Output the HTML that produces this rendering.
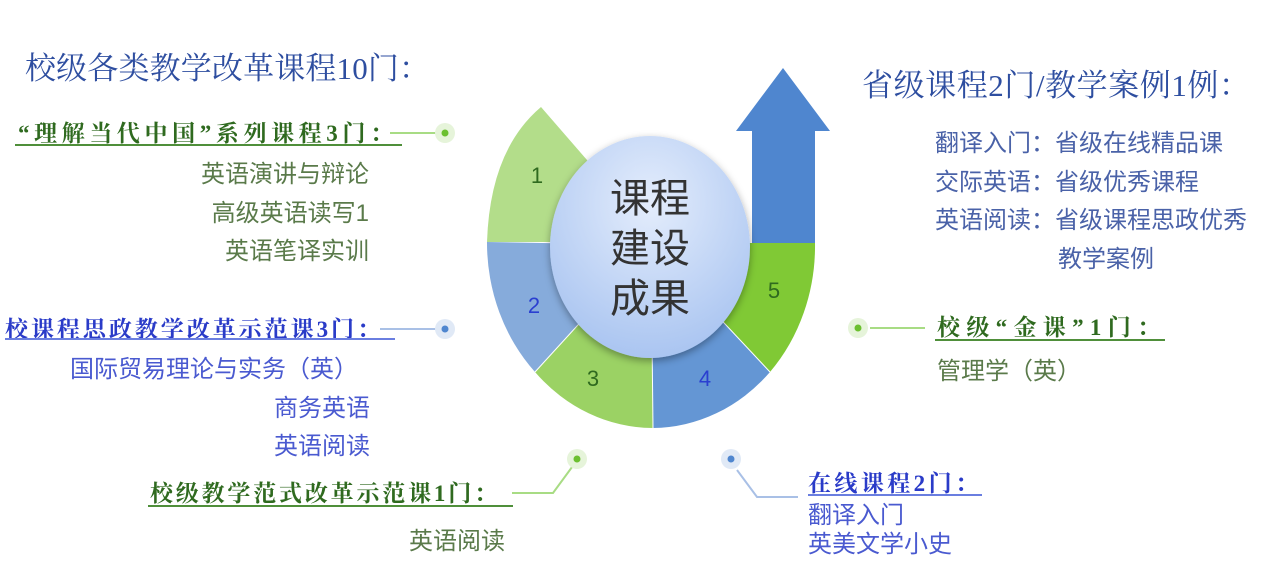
<!DOCTYPE html>
<html><head><meta charset="utf-8"><style>
html,body{margin:0;padding:0;background:#fff;}
svg{display:block}
.t{font-family:"Liberation Serif","Noto Serif CJK SC",serif;}
.s{font-family:"Liberation Sans","Noto Sans CJK SC",sans-serif;}
.hg{fill:#2f6a1f;font-weight:bold;}
.hb{fill:#2a3bc8;font-weight:bold;}
.bg{fill:#5a7a4a;}
.bb{fill:#4a5ad0;}
</style></head><body>
<svg width="1269" height="579" viewBox="0 0 1269 579" xmlns="http://www.w3.org/2000/svg">
<defs>
<radialGradient id="cg" cx="50%" cy="30%" r="75%">
<stop offset="0" stop-color="#e4edfc"/><stop offset="1" stop-color="#a6c2f0"/>
</radialGradient>
<filter id="sh" x="-20%" y="-20%" width="140%" height="140%"><feDropShadow dx="0" dy="3" stdDeviation="4" flood-opacity="0.35"/></filter>
</defs>
<path d="M487,242 Q490,150 541,107 L600,175 L640,242 Z" fill="#b3dd8a"/>
<path d="M487,242 A164,183 0 0 0 535,372 L651,245 Z" fill="#86abdb"/>
<path d="M535,372 A164,183 0 0 0 653,428 L651,245 Z" fill="#9bd264"/>
<path d="M653,428 A164,183 0 0 0 770,372 L651,245 Z" fill="#6496d4"/>
<path d="M770,372 A164,183 0 0 0 815,243 L700,243 L651,245 Z" fill="#80c935"/>
<line x1="535" y1="372" x2="651" y2="245" stroke="#fff" stroke-width="1"/>
<line x1="653" y1="428" x2="651" y2="245" stroke="#fff" stroke-width="1"/>
<line x1="770" y1="372" x2="651" y2="245" stroke="#fff" stroke-width="1"/>
<path d="M752,243 L752,131 L736,131 L783,68 L830,131 L815,131 L815,243 Z" fill="#4f86cf"/>
<ellipse cx="650" cy="247" rx="100" ry="111" fill="url(#cg)" filter="url(#sh)"/>
<g class="s" font-size="40" fill="#333" text-anchor="middle">
<text x="650" y="212">课程</text><text x="650" y="262">建设</text><text x="650" y="312">成果</text></g>
<g class="s" font-size="22" text-anchor="middle">
<text x="537" y="183" fill="#2f6a1f">1</text><text x="534" y="313" fill="#2a3fd0">2</text>
<text x="593" y="386" fill="#2f6a1f">3</text><text x="705" y="386" fill="#2a3fd0">4</text>
<text x="774" y="298" fill="#2f6a1f">5</text></g>
<text class="t" x="25" y="79" font-size="31" fill="#2e4ea0" textLength="405" lengthAdjust="spacing">校级各类教学改革课程10门：</text>
<text class="t" x="862" y="96" font-size="31" fill="#2e4ea0" textLength="388" lengthAdjust="spacing">省级课程2门/教学案例1例：</text>
<text class="t hg" x="18" y="141" font-size="23" textLength="375" lengthAdjust="spacing">“理解当代中国”系列课程3门：</text>
<line x1="15" y1="145" x2="402" y2="145" stroke="#4f8f3a" stroke-width="2"/>
<line x1="390" y1="133" x2="440" y2="133" stroke="#a8dc84" stroke-width="2"/>
<circle cx="445" cy="133" r="10" fill="#e6f4da"/><circle cx="445" cy="133" r="3.5" fill="#6cc030"/>
<g class="s bg" font-size="24" text-anchor="end">
<text x="369" y="182">英语演讲与辩论</text><text x="369" y="221">高级英语读写1</text><text x="369" y="259">英语笔译实训</text></g>
<text class="t hb" x="5" y="337" font-size="23" textLength="375" lengthAdjust="spacing">校课程思政教学改革示范课3门：</text>
<line x1="5" y1="339" x2="395" y2="339" stroke="#6a7ee0" stroke-width="2"/>
<line x1="380" y1="329" x2="440" y2="329" stroke="#a9c0e6" stroke-width="2"/>
<circle cx="445" cy="329" r="10" fill="#e0e9f6"/><circle cx="445" cy="329" r="3.5" fill="#4f86cf"/>
<g class="s bb" font-size="24" text-anchor="end">
<text x="358" y="377">国际贸易理论与实务（英）</text><text x="370" y="416">商务英语</text><text x="370" y="454">英语阅读</text></g>
<text class="t hg" x="150" y="501" font-size="23" textLength="347" lengthAdjust="spacing">校级教学范式改革示范课1门：</text>
<line x1="148" y1="506" x2="513" y2="506" stroke="#4f8f3a" stroke-width="2"/>
<polyline points="512,493 553,493 575,463" fill="none" stroke="#a8dc84" stroke-width="2"/>
<circle cx="577" cy="459" r="10" fill="#e6f4da"/><circle cx="577" cy="459" r="3.5" fill="#6cc030"/>
<text class="s bg" x="505" y="549" font-size="24" text-anchor="end">英语阅读</text>
<g class="s" font-size="24" fill="#4a62a8">
<text x="935" y="151">翻译入门：省级在线精品课</text>
<text x="935" y="190">交际英语：省级优秀课程</text>
<text x="935" y="228">英语阅读：省级课程思政优秀</text>
<text x="1058" y="267">教学案例</text></g>
<circle cx="858" cy="328" r="10" fill="#e6f4da"/><circle cx="858" cy="328" r="3.5" fill="#6cc030"/>
<line x1="870" y1="328" x2="925" y2="328" stroke="#a8dc84" stroke-width="2"/>
<text class="t hg" x="937" y="335" font-size="23" textLength="223" lengthAdjust="spacing">校级“金课”1门：</text>
<line x1="935" y1="340" x2="1165" y2="340" stroke="#4f8f3a" stroke-width="2"/>
<text class="s bg" x="937" y="379" font-size="24">管理学（英）</text>
<circle cx="731" cy="459" r="10" fill="#e0e9f6"/><circle cx="731" cy="459" r="3.5" fill="#4f86cf"/>
<polyline points="737,470 757,497 798,497" fill="none" stroke="#a9c0e6" stroke-width="2"/>
<text class="t hb" x="808" y="491" font-size="23" textLength="170" lengthAdjust="spacing">在线课程2门：</text>
<line x1="808" y1="495" x2="982" y2="495" stroke="#6a7ee0" stroke-width="2"/>
<g class="s bb" font-size="24"><text x="808" y="523">翻译入门</text><text x="808" y="552">英美文学小史</text></g>
</svg>
</body></html>
